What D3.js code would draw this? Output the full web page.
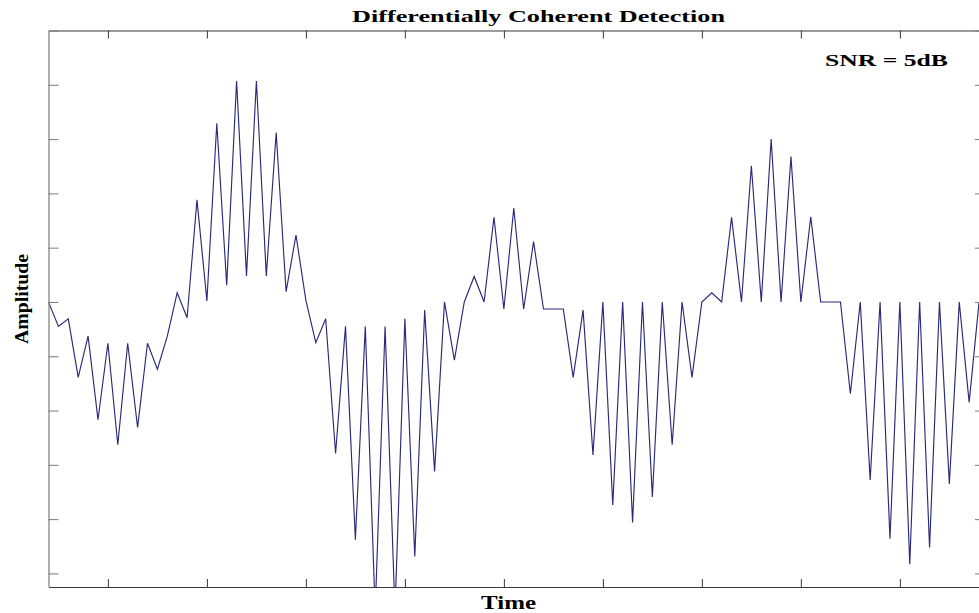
<!DOCTYPE html>
<html>
<head>
<meta charset="utf-8">
<script src="https://cdn.jsdelivr.net/npm/d3@7/dist/d3.min.js"></script>
<style>
  html, body { margin: 0; padding: 0; background: #fff; }
  svg { display: block; }
  text { font-family: "Liberation Serif", "Times New Roman", serif; font-weight: bold; fill: #000; }
</style>
</head>
<body>
<svg id="chart" width="979" height="613"></svg>
<script>
// Received signal after differentially coherent detection (SNR = 5 dB)
const sampleStart = 0.4;   // time of first sample
const sampleStep = 0.1;    // sampling interval
const amplitude = [
   0.00, -0.45, -0.31, -1.39, -0.63, -2.17, -0.76, -2.63, -0.76, -2.31,
  -0.76, -1.24, -0.63,  0.17, -0.29,  1.88,  0.02,  3.29,  0.31,  4.07,
   0.48,  4.07,  0.48,  3.12,  0.19,  1.23,  0.03, -0.75, -0.31, -2.79,
  -0.45, -4.38, -0.45, -5.70, -0.45, -5.70, -0.31, -4.69, -0.15, -3.12,
   0.00, -1.07,  0.00,  0.47,  0.00,  1.56, -0.13,  1.73, -0.13,  1.11,
  -0.13, -0.13, -0.13, -1.39, -0.15, -2.82,  0.00, -3.74,  0.00, -4.06,
   0.00, -3.59,  0.00, -2.63,  0.00, -1.39,  0.00,  0.17,  0.00,  1.56,
   0.00,  2.51,  0.00,  3.00,  0.00,  2.68,  0.00,  1.57,  0.00,  0.00,
   0.00, -1.69,  0.00, -3.28,  0.00, -4.36,  0.00, -4.83,  0.00, -4.52,
   0.00, -3.35,  0.00, -1.85,  0.00
];
const timeTicks = [1, 2, 3, 4, 5, 6, 7, 8, 9];
const ampTicks = [-5, -4, -3, -2, -1, 0, 1, 2, 3, 4, 5];
const timeDomain = [0.4, 9.86];
const ampDomain = [-5.25, 5];

const titleText = "Differentially Coherent Detection";
const xLabel = "Time";
const yLabel = "Amplitude";
const noteText = "SNR = 5dB";

const samples = amplitude.map((v, i) => ({ t: sampleStart + i * sampleStep, v }));

const svg = d3.select("#chart");
const plot = { left: 48.5, right: 985, top: 30.5, bottom: 587 };

const x = d3.scaleLinear().domain(timeDomain).range([plot.left, plot.right]);
const y = d3.scaleLinear().domain(ampDomain).range([plot.bottom, plot.top]);

svg.append("defs").append("clipPath").attr("id", "plot-clip")
  .append("rect")
  .attr("x", plot.left).attr("y", plot.top)
  .attr("width", plot.right - plot.left).attr("height", plot.bottom - plot.top);

// signal trace
svg.append("path")
  .datum(samples)
  .attr("clip-path", "url(#plot-clip)")
  .attr("fill", "none")
  .attr("stroke", "#2a2a7a")
  .attr("stroke-width", 1.15)
  .attr("stroke-linejoin", "miter")
  .attr("d", d3.line().x(d => x(d.t)).y(d => y(d.v)));

// box axes with inward ticks and no labels
function styleAxis(g, color) {
  g.selectAll("text").remove();
  g.select(".domain").attr("stroke", color).attr("stroke-width", 1.2);
  g.selectAll(".tick line").attr("stroke", color).attr("stroke-width", 1);
}

svg.append("g")
  .attr("transform", `translate(0,${plot.bottom})`)
  .call(d3.axisBottom(x).tickValues(timeTicks).tickSizeInner(-8).tickSizeOuter(0))
  .call(g => styleAxis(g, "#3a3a3a"));

svg.append("g")
  .attr("transform", `translate(0,${plot.top})`)
  .call(d3.axisTop(x).tickValues(timeTicks).tickSizeInner(-8).tickSizeOuter(0))
  .call(g => styleAxis(g, "#3a3a3a"));

svg.append("g")
  .attr("transform", `translate(${plot.left},0)`)
  .call(d3.axisLeft(y).tickValues(ampTicks).tickSizeInner(-10).tickSizeOuter(0))
  .call(g => styleAxis(g, "#7a7a7a"));

svg.append("g")
  .attr("transform", `translate(${plot.right},0)`)
  .call(d3.axisRight(y).tickValues(ampTicks).tickSizeInner(-10).tickSizeOuter(0))
  .call(g => styleAxis(g, "#7a7a7a"));

// texts
svg.append("text")
  .attr("x", 352).attr("y", 22)
  .attr("font-size", 17.5)
  .attr("textLength", 373).attr("lengthAdjust", "spacingAndGlyphs")
  .text(titleText);

svg.append("text")
  .attr("x", 825).attr("y", 66)
  .attr("font-size", 17)
  .attr("textLength", 123).attr("lengthAdjust", "spacingAndGlyphs")
  .text(noteText);

svg.append("text")
  .attr("x", 481).attr("y", 609)
  .attr("font-size", 18)
  .attr("textLength", 55).attr("lengthAdjust", "spacingAndGlyphs")
  .text(xLabel);

svg.append("text")
  .attr("transform", `translate(28,${y(0) - 3}) rotate(-90)`)
  .attr("text-anchor", "middle")
  .attr("font-size", 19.5)
  .attr("textLength", 90).attr("lengthAdjust", "spacingAndGlyphs")
  .text(yLabel);
</script>
</body>
</html>
